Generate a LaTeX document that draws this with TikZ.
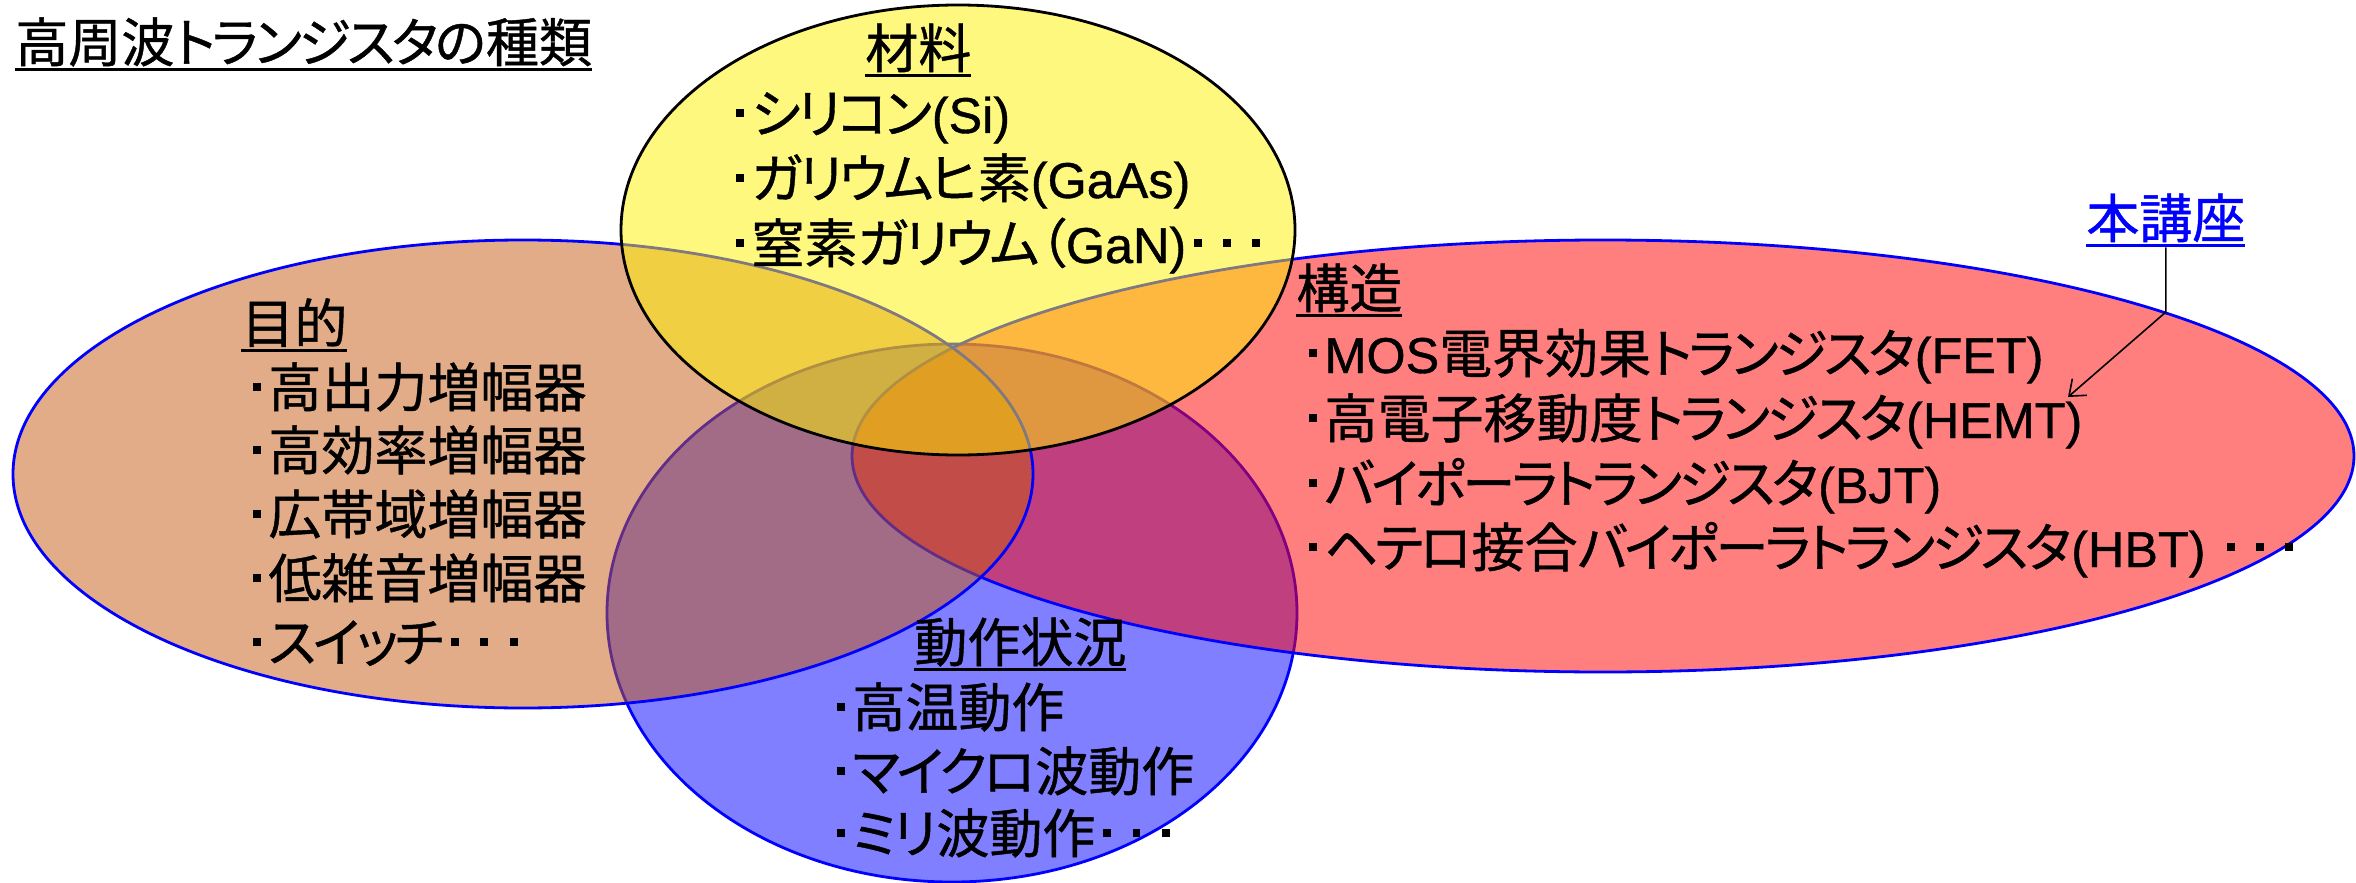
\documentclass[tikz,border=0pt]{standalone}
\usepackage{fontspec}
\setmainfont{Noto Sans CJK JP}[RawFeature={+palt}, FakeBold=0.8]
\newfontfamily\kn{Noto Sans CJK JP}[RawFeature={+palt}, FakeBold=0.8, LetterSpace=-6]
\newfontfamily\lat{Liberation Sans}[Scale=0.95, FakeBold=0.8]
\usetikzlibrary{arrows.meta}
\definecolor{tanc}{RGB}{197,90,17}
\newcommand\sqd{\rule[0.31em]{0.15em}{0.15em}}
\newcommand\bul{\hspace{0.06em}\sqd\hspace{0.15em}}
\newcommand\tdots{\hspace{0.15em}\sqd\hspace{0.4em}\sqd\hspace{0.4em}\sqd}
\newsavebox\ulbox
\newcommand\ul[1]{\sbox\ulbox{#1}\rlap{\rule[-0.17em]{\wd\ulbox}{0.055em}}\usebox\ulbox}
\tikzset{
  txt/.style={anchor=base west, inner sep=0pt, font=\fontsize{26.5}{32}\selectfont},
  venn/.style={line width=1.4pt, fill opacity=0.5},
  arr/.style={line width=0.8pt, -{Straight Barb[length=7pt,width=11pt]}}
}
\begin{document}
\begin{tikzpicture}[x=0.5pt,y=-0.5pt]
\useasboundingbox (0,0) rectangle (2356,883);
\fill[white] (0,0) rectangle (2356,883);
% ellipses, bottom to top
\draw[venn, fill=blue, draw=blue] (952,613) ellipse [x radius=172.5pt, y radius=134.5pt];
\draw[venn, fill=red, draw=blue] (1603,456) ellipse [x radius=375.5pt, y radius=108pt];
\draw[venn, fill=tanc, draw=blue] (523,474) ellipse [x radius=255pt, y radius=117pt];
\draw[venn, fill=yellow, draw=black] (958,230) ellipse [x radius=168.5pt, y radius=112.5pt];
% title
\node[txt] (title) at (15,62) {\ul{高周波{\kn トランジスタの}種類}};
% material
\node[txt] (hzai) at (865,68) {\ul{材料}};
\node[txt] (z1) at (732,133) {\bul {\kn シリコン}{\lat (Si)}};
\node[txt] (z2) at (732,198) {\bul {\kn ガリウムヒ}素{\lat (GaAs)}};
\node[txt] (z3) at (732,263) {\bul 窒素{\kn ガリウム}（{\lat GaN)}\tdots};
% purpose
\node[txt] (hmoku) at (241,343) {\ul{目的}};
\node[txt] (m1) at (249,407) {\bul 高出力増幅器};
\node[txt] (m2) at (249,470) {\bul 高効率増幅器};
\node[txt] (m3) at (249,534) {\bul 広帯域増幅器};
\node[txt] (m4) at (249,598) {\bul 低雑音増幅器};
\node[txt] (m5) at (249,662) {\bul {\kn スイッチ}\tdots};
% structure
\node[txt] (hkou) at (1296,308) {\ul{構造}};
\node[txt] (k1) at (1305,373) {\bul {\lat MOS}電界効果{\kn トランジスタ}{\lat (FET)}};
\node[txt] (k2) at (1305,438) {\bul 高電子移動度{\kn トランジスタ}{\lat (HEMT)}};
\node[txt] (k3) at (1305,503) {\bul {\kn バイポーラトランジスタ}{\lat (BJT)}};
\node[txt] (k4) at (1305,567) {\bul {\kn ヘテロ}接合{\kn バイポーラトランジスタ}{\lat (HBT)}\hspace{0.25em}\tdots};
% operation
\node[txt] (hdou) at (914,662) {\ul{動作状況}};
\node[txt] (d1) at (833,727) {\bul 高温動作};
\node[txt] (d2) at (833,791) {\bul {\kn マイクロ}波動作};
\node[txt] (d3) at (833,853) {\bul {\kn ミリ}波動作\tdots};
% this course
\node[txt, text=blue] (hon) at (2086,238) {\ul{本講座}};
\coordinate (bend) at (2163,312);
\coordinate (tip) at (2068,397);
\draw[arr] (hon.south) -- (hon.south |- bend) -- (tip);
\end{tikzpicture}
\end{document}
